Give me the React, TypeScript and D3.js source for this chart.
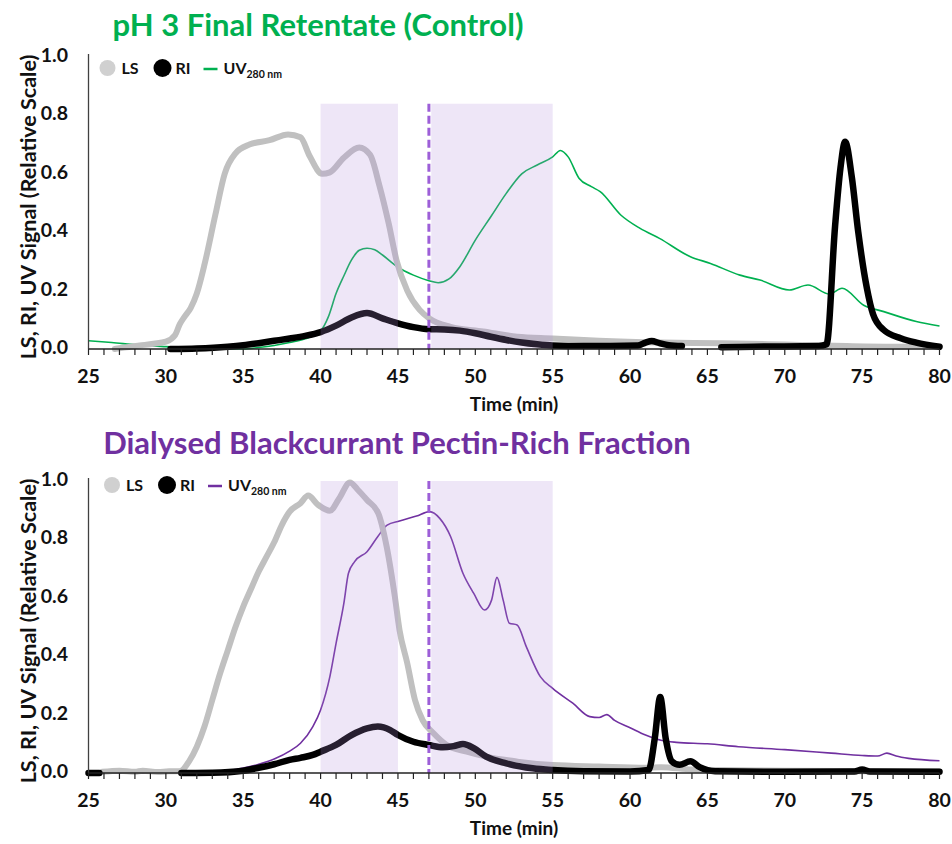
import React from "react";
import * as d3 from "d3";

// ---- Data: pH 3 Final Retentate (Control) ----
const topLsTime = [26.7, 27.3, 28.3, 29.2, 30.0, 30.6, 30.9, 31.2, 31.6, 32.0, 32.5, 33.2, 33.8, 34.5, 35.4, 36.7, 37.9, 38.7, 39.3, 40.1, 40.6, 41.5, 42.5, 43.2, 43.8, 44.4, 44.9, 45.6, 46.4, 47.0, 48.4, 50.5, 52.7, 55.0, 58.0, 62.0, 66.0, 70.0, 74.0, 77.0, 80.0];
const topLsValue = [0.0, 0.005, 0.012, 0.018, 0.025, 0.048, 0.085, 0.11, 0.14, 0.19, 0.29, 0.46, 0.6, 0.67, 0.7, 0.715, 0.735, 0.725, 0.66, 0.6, 0.605, 0.655, 0.69, 0.665, 0.56, 0.43, 0.305, 0.2, 0.134, 0.106, 0.076, 0.06, 0.042, 0.036, 0.028, 0.022, 0.02, 0.015, 0.01, 0.008, 0.008];

const topRiTime = [30.3, 32, 34, 35, 36, 37, 38, 39, 40, 41, 42, 43, 44, 45, 46, 47, 48, 49, 50, 51, 52, 53, 54, 55, 57, 60.5, 61.0, 61.4, 61.9, 62.5, 63.35, 64.5, 65.9, 68, 72.2, 72.7, 73.25, 73.6, 73.9, 74.33, 74.75, 75.3, 75.7, 76.4, 77.5, 78.5, 80];
const topRiValue = [0.0, 0.002, 0.008, 0.013, 0.02, 0.028, 0.036, 0.045, 0.058, 0.08, 0.108, 0.123, 0.105, 0.088, 0.075, 0.068, 0.067, 0.063, 0.054, 0.042, 0.031, 0.022, 0.016, 0.012, 0.01, 0.012, 0.022, 0.027, 0.02, 0.013, 0.01, null, 0.006, 0.008, 0.01, 0.016, 0.42, 0.62, 0.71, 0.59, 0.4, 0.21, 0.12, 0.065, 0.037, 0.022, 0.008];

const topUvTime = [25, 26.5, 28.1, 30, 32, 34, 35, 36, 37, 38, 39, 40, 40.5, 41, 41.5, 42, 42.5, 43, 43.5, 44, 45, 46, 47, 47.6, 48.3, 49, 50, 51, 52, 53, 54, 55, 55.5, 56, 56.7, 57.5, 58.07, 59.4, 60.65, 61.9, 63.9, 65.2, 67.1, 68.4, 70.3, 71.5, 72.9, 73.7, 75.1, 76.4, 78.5, 80];
const topUvValue = [0.028, 0.022, 0.014, 0.008, 0.003, 0.0, 0.0, 0.005, 0.012, 0.022, 0.035, 0.062, 0.11, 0.19, 0.25, 0.305, 0.338, 0.345, 0.34, 0.322, 0.28, 0.253, 0.234, 0.227, 0.24, 0.282, 0.373, 0.453, 0.533, 0.6, 0.63, 0.658, 0.68, 0.658, 0.585, 0.556, 0.539, 0.459, 0.413, 0.379, 0.316, 0.293, 0.253, 0.236, 0.202, 0.219, 0.188, 0.208, 0.15, 0.128, 0.094, 0.079];

// ---- Data: Dialysed Blackcurrant Pectin-Rich Fraction ----
const botLsTime = [25.9, 27, 28, 28.5, 29.5, 30.2, 30.9, 31.5, 32, 32.5, 33, 33.5, 34, 34.5, 35, 35.5, 36, 36.5, 37, 37.5, 38, 38.7, 39.2, 39.8, 40.6, 41.2, 41.9, 42.4, 43.0, 43.73, 44.27, 44.8, 45.1, 45.6, 46.1, 46.6, 47.3, 48.15, 49.45, 50.7, 52.7, 55, 58, 61, 62, 64, 66, 70, 75, 80];
const botLsValue = [0.004, 0.008, 0.004, 0.008, 0.003, 0.006, 0.006, 0.04, 0.09, 0.16, 0.25, 0.34, 0.42, 0.5, 0.57, 0.63, 0.69, 0.74, 0.79, 0.85, 0.895, 0.924, 0.95, 0.92, 0.898, 0.94, 0.995, 0.97, 0.935, 0.889, 0.775, 0.604, 0.49, 0.376, 0.25, 0.18, 0.136, 0.096, 0.073, 0.056, 0.039, 0.027, 0.022, 0.018, 0.02, 0.012, 0.01, 0.008, 0.006, 0.005];

const botRiTime = [25, 25.7, 28, 31, 33, 35, 36, 37, 38, 38.7, 39.5, 40, 41, 42, 43, 43.7, 44.5, 45, 46, 47, 47.9, 48.6, 49.2, 49.9, 50.7, 52, 53.7, 55, 57, 60, 61.2, 61.6, 61.95, 62.3, 62.7, 63.2, 63.9, 64.5, 65.5, 70, 74.5, 75, 75.5, 80];
const botRiValue = [0.0, 0.0, null, 0.0, 0.001, 0.008, 0.018, 0.03, 0.045, 0.052, 0.062, 0.073, 0.096, 0.13, 0.153, 0.159, 0.147, 0.13, 0.107, 0.096, 0.088, 0.092, 0.099, 0.085, 0.056, 0.033, 0.016, 0.01, 0.006, 0.005, 0.01, 0.12, 0.26, 0.12, 0.04, 0.028, 0.04, 0.02, 0.006, 0.004, 0.005, 0.012, 0.005, 0.004];

const botUvTime = [25, 30, 33, 34, 35, 36, 37, 38, 38.7, 39.5, 40, 40.6, 41, 41.5, 41.8, 42.2, 43, 43.7, 44.3, 45.1, 46.2, 47.05, 47.7, 48.4, 49.2, 49.9, 50.6, 51.05, 51.4, 51.8, 52.2, 52.7, 53.3, 54.2, 55, 56.3, 57.4, 58, 58.5, 59, 60, 61, 62, 63, 65, 67, 70, 73, 75, 76, 76.6, 77.2, 78, 80];
const botUvValue = [0.0, 0.0, 0.003, 0.008, 0.017, 0.03, 0.048, 0.075, 0.102, 0.159, 0.216, 0.33, 0.444, 0.58, 0.684, 0.724, 0.758, 0.81, 0.849, 0.863, 0.88, 0.895, 0.872, 0.81, 0.684, 0.615, 0.558, 0.592, 0.67, 0.592, 0.513, 0.507, 0.432, 0.33, 0.29, 0.239, 0.193, 0.19, 0.2, 0.18, 0.155, 0.13, 0.112, 0.105, 0.1, 0.09, 0.08, 0.068, 0.06, 0.058, 0.068, 0.058, 0.05, 0.042];

// Shaded fraction windows (min) and the marker time
const windowStarts = [40, 47.15];
const windowEnds = [45, 55];
const markerTime = 47;

const xTickLabels = [25, 30, 35, 40, 45, 50, 55, 60, 65, 70, 75, 80];
const yTickLabels = [0, 0.2, 0.4, 0.6, 0.8, 1.0];

const FONT = "Lato, 'Open Sans', sans-serif";
const LS_COLOR = "#c0c0c0";
const RI_COLOR = "#000000";

type Pt = { t: number; v: number | null };
const zip = (t: number[], v: (number | null)[]): Pt[] => t.map((tt, i) => ({ t: tt, v: v[i] }));

const x = d3.scaleLinear().domain([25, 80]).range([88.5, 939.5]);

interface PanelProps {
  title: string;
  titleColor: string;
  titleX: number;
  titleY: number;
  y0: number; // pixel of value 0
  y1: number; // pixel of value 1
  uvColor: string;
  ls: Pt[];
  ri: Pt[];
  uv: Pt[];
  windowTop: number;
  legendY: number;
  legendX: number;
}

function Panel(p: PanelProps) {
  const y = d3.scaleLinear().domain([0, 1]).range([p.y0, p.y1]);
  const line = d3
    .line<Pt>()
    .defined((d) => d.v !== null)
    .x((d) => x(d.t))
    .y((d) => y(d.v as number))
    .curve(d3.curveMonotoneX);
  const minorTicks = d3.range(25, 81, 1);
  const axisLeft = x(25);
  const lx = p.legendX;
  return (
    <g>
      <text x={p.titleX} y={p.titleY} textAnchor="middle" fontFamily={FONT} fontWeight={700} fontSize={31} fill={p.titleColor}>
        {p.title}
      </text>
      {/* y axis title */}
      <text
        transform={`translate(30,${(p.y0 + p.y1) / 2 + 4}) rotate(-90)`}
        textAnchor="middle"
        dominantBaseline="middle"
        fontFamily={FONT}
        fontWeight={700}
        fontSize={21.5}
        fill="#111"
      >
        LS, RI, UV Signal (Relative Scale)
      </text>
      {yTickLabels.map((v) => (
        <text key={v} x={68} y={y(v)} textAnchor="end" dominantBaseline="middle" fontFamily={FONT} fontWeight={700} fontSize={19.5} fill="#111">
          {v.toFixed(1)}
        </text>
      ))}
      {/* series */}
      <path d={line(p.uv) || ""} fill="none" stroke={p.uvColor} strokeWidth={1.6} />
      <path d={line(p.ls) || ""} fill="none" stroke={LS_COLOR} strokeWidth={6} strokeLinejoin="round" strokeLinecap="round" />
      <path d={line(p.ri) || ""} fill="none" stroke={RI_COLOR} strokeWidth={6.5} strokeLinejoin="round" strokeLinecap="round" />
      {/* shaded windows */}
      {windowStarts.map((s, i) => (
        <rect key={s} x={x(s)} y={y(p.windowTop)} width={x(windowEnds[i]) - x(s)} height={y(0) - y(p.windowTop)} fill="rgba(178,142,220,0.22)" />
      ))}
      <line x1={x(markerTime)} x2={x(markerTime)} y1={y(p.windowTop)} y2={y(0)} stroke="#9d5fd8" strokeWidth={3} strokeDasharray="8 4" />
      {/* axes */}
      <line x1={axisLeft} x2={axisLeft} y1={y(0)} y2={y(1) - 3} stroke="#404040" strokeWidth={1.3} />
      <line x1={axisLeft} x2={x(80)} y1={y(0)} y2={y(0)} stroke="#222" strokeWidth={1.5} />
      {minorTicks.map((t) => (
        <line key={t} x1={x(t)} x2={x(t)} y1={y(0)} y2={y(0) + 6} stroke="#222" strokeWidth={1.2} />
      ))}
      {xTickLabels.map((t) => (
        <text key={t} x={x(t)} y={y(0) + 29} textAnchor="middle" dominantBaseline="middle" fontFamily={FONT} fontWeight={700} fontSize={19.5} fill="#111">
          {t}
        </text>
      ))}
      <text x={(x(25) + x(80)) / 2} y={y(0) + 57} textAnchor="middle" dominantBaseline="middle" fontFamily={FONT} fontWeight={700} fontSize={19} fill="#111">
        Time (min)
      </text>
      {/* legend */}
      <circle cx={lx} cy={p.legendY} r={8} fill="#d0d0d0" />
      <text x={lx + 14} y={p.legendY + 6} fontFamily={FONT} fontWeight={700} fontSize={16} fill="#111">LS</text>
      <circle cx={lx + 55} cy={p.legendY} r={9} fill="#000" />
      <text x={lx + 68} y={p.legendY + 6} fontFamily={FONT} fontWeight={700} fontSize={16} fill="#111">RI</text>
      <line x1={lx + 96} x2={lx + 110} y1={p.legendY + 1} y2={p.legendY + 1} stroke={p.uvColor} strokeWidth={2.5} />
      <text x={lx + 116} y={p.legendY + 6} fontFamily={FONT} fontWeight={700} fontSize={16} fill="#111">
        UV<tspan fontSize={10.5} dy={4}>280 nm</tspan>
      </text>
    </g>
  );
}

export default function App() {
  return (
    <svg width={952} height={844} style={{ position: "absolute", left: 0, top: 0, background: "#fff" }}>
      <Panel
        title="pH 3 Final Retentate (Control)"
        titleColor="#00b050"
        titleX={318}
        titleY={36}
        y0={349}
        y1={57}
        uvColor="#00b050"
        ls={zip(topLsTime, topLsValue)}
        ri={zip(topRiTime, topRiValue)}
        uv={zip(topUvTime, topUvValue)}
        windowTop={0.84}
        legendX={107.5}
        legendY={68}
      />
      <Panel
        title="Dialysed Blackcurrant Pectin-Rich Fraction"
        titleColor="#7030a0"
        titleX={397}
        titleY={454}
        y0={773}
        y1={481}
        uvColor="#7030a0"
        ls={zip(botLsTime, botLsValue)}
        ri={zip(botRiTime, botRiValue)}
        uv={zip(botUvTime, botUvValue)}
        windowTop={1.0}
        legendX={112}
        legendY={485}
      />
    </svg>
  );
}
